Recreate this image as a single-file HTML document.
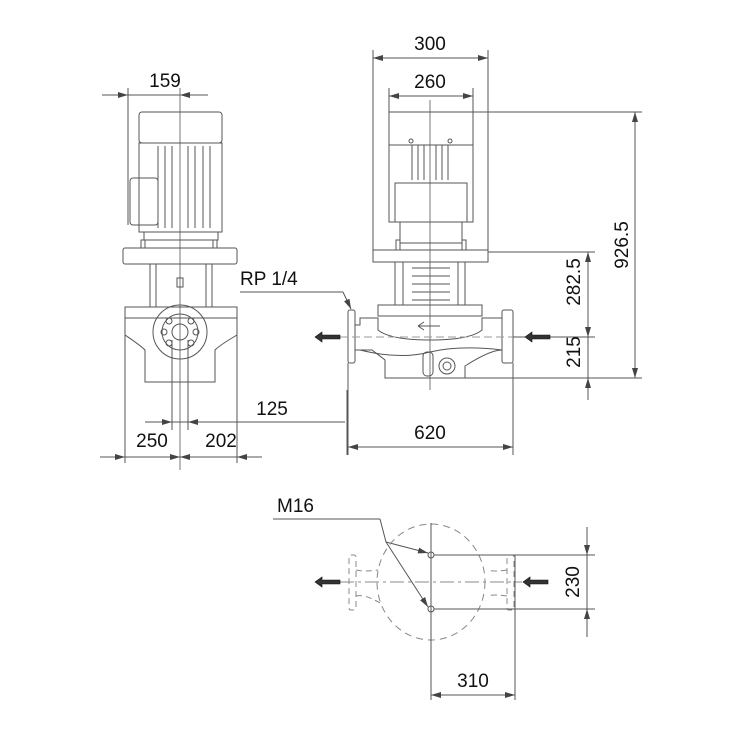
<!DOCTYPE html>
<html><head><meta charset="utf-8"><style>
html,body{margin:0;padding:0;background:#fff}
svg{display:block}
text{font-family:"Liberation Sans",Arial,sans-serif;font-size:19px;fill:#111}
</style></head><body>
<svg width="750" height="750" viewBox="0 0 750 750" xmlns="http://www.w3.org/2000/svg">
<defs>
<marker id="a" viewBox="0 0 10 6" refX="10" refY="3" markerWidth="10" markerHeight="6" orient="auto-start-reverse" markerUnits="userSpaceOnUse">
<path d="M0,0 L10,3 L0,6 z" fill="#444"/></marker>
</defs>
<g stroke="#555" stroke-width="1" fill="none">
<line x1="102" y1="95" x2="208" y2="95"/>
<line x1="102" y1="95" x2="128" y2="95" marker-end="url(#a)"/>
<line x1="208" y1="95" x2="180" y2="95" marker-end="url(#a)"/>
<line x1="128" y1="88" x2="128" y2="225"/>
<line x1="180" y1="88" x2="180" y2="470" stroke="#777"/>
<rect x="139" y="112" width="83" height="31" rx="3"/>
<rect x="139" y="143" width="83" height="89"/>
<line x1="158" y1="146" x2="158" y2="228"/><line x1="165" y1="146" x2="165" y2="228"/><line x1="172" y1="146" x2="172" y2="228"/><line x1="188" y1="146" x2="188" y2="228"/><line x1="195" y1="146" x2="195" y2="228"/><line x1="203" y1="146" x2="203" y2="228"/><line x1="210" y1="146" x2="210" y2="228"/>
<rect x="130" y="178" width="28" height="47" rx="3"/>
<rect x="144" y="232" width="74" height="8"/>
<rect x="141" y="240" width="4" height="8"/><rect x="213" y="240" width="4" height="8"/>
<rect x="123" y="248" width="114" height="16" rx="2"/>
<rect x="150" y="264" width="62" height="43"/>
<line x1="156" y1="264" x2="156" y2="307"/><line x1="206" y1="264" x2="206" y2="307"/>
<rect x="177" y="278" width="6" height="9"/>
<rect x="125" y="307" width="112" height="11"/>
<path d="M125,318 L125,335 Q140,345 145,350 L145,382 L215,382 L215,350 Q220,345 237,335 L237,318"/>
<circle cx="180" cy="332" r="27"/>
<circle cx="180" cy="332" r="18"/>
<circle cx="180" cy="332" r="8"/>
<circle cx="169" cy="321" r="3"/><circle cx="191" cy="321" r="3"/><circle cx="164" cy="332" r="3"/><circle cx="196" cy="332" r="3"/><circle cx="169" cy="343" r="3"/><circle cx="191" cy="343" r="3"/>
<line x1="172" y1="340" x2="172" y2="430"/><line x1="188" y1="340" x2="188" y2="430"/>
<line x1="125" y1="318" x2="125" y2="463"/>
<line x1="237" y1="318" x2="237" y2="463"/>
<line x1="100" y1="457" x2="262" y2="457"/>
<line x1="100" y1="457" x2="125" y2="457" marker-end="url(#a)"/>
<line x1="150" y1="457" x2="180" y2="457" marker-end="url(#a)"/>
<line x1="210" y1="457" x2="180" y2="457" marker-end="url(#a)"/>
<line x1="262" y1="457" x2="237" y2="457" marker-end="url(#a)"/>
<line x1="145" y1="422" x2="345" y2="422"/>
<line x1="150" y1="422" x2="172" y2="422" marker-end="url(#a)"/>
<line x1="210" y1="422" x2="188" y2="422" marker-end="url(#a)"/>
<line x1="240" y1="292" x2="343" y2="292"/>
<line x1="343" y1="292" x2="351" y2="309" marker-end="url(#a)"/>
<line x1="347" y1="390" x2="347" y2="455"/>
<line x1="373" y1="50" x2="373" y2="258"/><line x1="488" y1="50" x2="488" y2="258"/>
<line x1="373" y1="58" x2="488" y2="58" marker-end="url(#a)" marker-start="url(#a)"/>
<line x1="389" y1="88" x2="389" y2="112"/><line x1="473" y1="88" x2="473" y2="112"/>
<line x1="389" y1="96" x2="473" y2="96" marker-end="url(#a)" marker-start="url(#a)"/>
<line x1="430" y1="100" x2="430" y2="390" stroke="#777"/>
<rect x="389" y="112" width="84" height="33"/>
<rect x="389" y="145" width="84" height="77"/>
<line x1="412" y1="145" x2="412" y2="180"/><line x1="418" y1="145" x2="418" y2="180"/><line x1="424" y1="145" x2="424" y2="180"/><line x1="436" y1="145" x2="436" y2="180"/><line x1="442" y1="145" x2="442" y2="180"/><line x1="448" y1="145" x2="448" y2="180"/>
<circle cx="411" cy="141" r="2"/><circle cx="450" cy="141" r="2"/>
<rect x="395" y="183" width="72" height="39"/>
<rect x="400" y="222" width="62" height="21"/>
<rect x="396" y="240" width="4" height="10"/><rect x="462" y="240" width="4" height="10"/>
<rect x="373" y="250" width="115" height="12"/>
<rect x="395" y="262" width="70" height="43"/>
<line x1="403" y1="262" x2="403" y2="305"/><line x1="458" y1="262" x2="458" y2="305"/>
<line x1="412" y1="268" x2="450" y2="268"/><line x1="412" y1="276" x2="450" y2="276"/><line x1="412" y1="284" x2="450" y2="284"/><line x1="412" y1="292" x2="450" y2="292"/><line x1="412" y1="300" x2="450" y2="300"/>
<rect x="378" y="305" width="104" height="11"/>
<rect x="348" y="310" width="7" height="53" rx="2"/>
<rect x="502" y="310" width="11" height="53" rx="2"/>
<path d="M355,325 L360,325 L360,318 L378,318 L378,330 Q390,340 430,340 Q470,340 482,330 L482,318 L502,318 L502,325"/>
<path d="M355,350 L372,350 L385,360 L385,378 L465,378 L465,366 Q490,350 502,350"/>
<path d="M360,350 Q400,360 430,352 Q460,345 502,350"/>
<rect x="423" y="352" width="10" height="24" rx="4"/>
<circle cx="447" cy="366" r="8"/><circle cx="447" cy="366" r="4"/>
<path d="M418,326 L440,326 M418,326 L424,322 M418,326 L424,330"/>
<line x1="340" y1="337" x2="520" y2="337" stroke="#999" stroke-dasharray="8,4"/>
<line x1="473" y1="112" x2="642" y2="112"/>
<line x1="465" y1="378" x2="642" y2="378"/>
<line x1="635" y1="112" x2="635" y2="378" marker-end="url(#a)" marker-start="url(#a)"/>
<line x1="488" y1="252" x2="595" y2="252"/>
<line x1="513" y1="337" x2="595" y2="337"/>
<line x1="588" y1="252" x2="588" y2="395"/>
<line x1="588" y1="300" x2="588" y2="252" marker-end="url(#a)"/>
<line x1="588" y1="300" x2="588" y2="337" marker-end="url(#a)"/>
<line x1="588" y1="400" x2="588" y2="378" marker-end="url(#a)"/>
<line x1="348" y1="363" x2="348" y2="455"/><line x1="513" y1="363" x2="513" y2="455"/>
<line x1="348" y1="447" x2="513" y2="447" marker-end="url(#a)" marker-start="url(#a)"/>
<line x1="273" y1="519" x2="380" y2="519"/>
<line x1="380" y1="519" x2="386" y2="542"/>
<line x1="386" y1="542" x2="428" y2="553" marker-end="url(#a)"/>
<line x1="386" y1="542" x2="428" y2="607" marker-end="url(#a)"/>
<ellipse cx="431" cy="582" rx="54" ry="58" stroke="#888" stroke-dasharray="7,5"/>
<line x1="431" y1="523" x2="431" y2="700"/>
<line x1="340" y1="582" x2="522" y2="582" stroke="#888" stroke-dasharray="14,4,3,4"/>
<circle cx="431" cy="555" r="3"/><circle cx="431" cy="609" r="3"/>
<rect x="349" y="555" width="7" height="55" rx="2" stroke="#888" stroke-dasharray="6,4"/>
<rect x="507" y="555" width="7" height="55" rx="2" stroke="#888" stroke-dasharray="6,4"/>
<path d="M356,570 Q365,572 378,570 M356,596 Q365,594 380,603 M507,570 Q495,572 487,570 M507,596 Q495,594 487,596" stroke="#888" stroke-dasharray="6,4"/>
<line x1="434" y1="555" x2="595" y2="555"/>
<line x1="434" y1="609" x2="595" y2="609"/>
<line x1="587" y1="527" x2="587" y2="637"/>
<line x1="587" y1="530" x2="587" y2="555" marker-end="url(#a)"/>
<line x1="587" y1="635" x2="587" y2="609" marker-end="url(#a)"/>
<line x1="515" y1="555" x2="515" y2="700"/>
<line x1="431" y1="695" x2="515" y2="695" marker-end="url(#a)" marker-start="url(#a)"/>
</g>
<g fill="#333" stroke="#111" stroke-width="0.6">
<path d="M340,335 L322,335 L322,332 L315,337 L322,342 L322,339 L340,339 z"/>
<path d="M550,335 L532,335 L532,332 L525,337 L532,342 L532,339 L550,339 z"/>
<path d="M340,580 L322,580 L322,577 L315,582 L322,587 L322,584 L340,584 z"/>
<path d="M548,580 L530,580 L530,577 L523,582 L530,587 L530,584 L548,584 z"/>
</g>
<text x="165" y="87" text-anchor="middle">159</text>
<text x="430" y="50" text-anchor="middle">300</text>
<text x="430" y="88" text-anchor="middle">260</text>
<text x="240" y="285">RP 1/4</text>
<text x="272" y="415" text-anchor="middle">125</text>
<text x="152" y="447" text-anchor="middle">250</text>
<text x="221" y="447" text-anchor="middle">202</text>
<text x="430" y="439" text-anchor="middle">620</text>
<text x="277" y="512">M16</text>
<text x="473" y="687" text-anchor="middle">310</text>
<text transform="translate(628,245) rotate(-90)" text-anchor="middle">926.5</text>
<text transform="translate(580,282) rotate(-90)" text-anchor="middle">282.5</text>
<text transform="translate(580,352) rotate(-90)" text-anchor="middle">215</text>
<text transform="translate(579,582) rotate(-90)" text-anchor="middle">230</text>
</svg>
</body></html>
